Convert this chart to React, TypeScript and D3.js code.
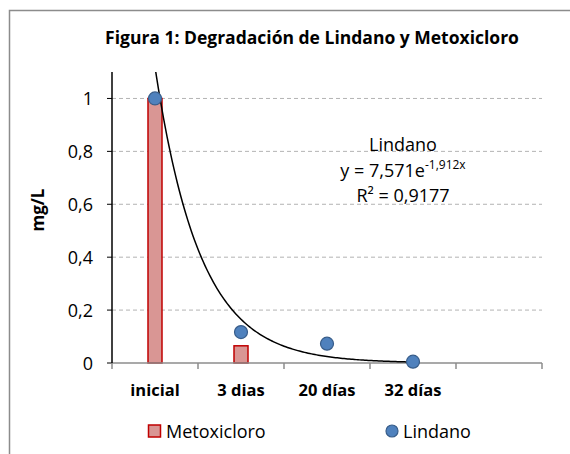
import React from "react";
import * as d3 from "d3";

const categories = ["inicial", "3 dias", "20 días", "32 días", ""];
const metoxicloro = [1, 0.065, null, null, null];
const lindano = [1, 0.117, 0.073, 0.005, null];
const yTicks = [0, 0.2, 0.4, 0.6, 0.8, 1];
const trendA = 7.571;
const trendB = -1.912;

const FONT = "'Open Sans', 'Noto Sans', sans-serif";

function App() {
  const left = 112;
  const right = 542;
  const top = 72;
  const bottom = 363;

  const x = d3.scaleBand().domain(categories.map((c, i) => String(i))).range([left, right]);
  const y = d3.scaleLinear().domain([0, 1.1]).range([bottom, top]);
  const bw = x.bandwidth();
  const cx = (i: number) => (x(String(i)) || 0) + bw / 2;
  // trend line uses Excel's category index (1-based)
  const xIdx = d3.scaleLinear().domain([1, 2]).range([cx(0), cx(1)]);
  const trendPts = d3.range(1, 4.001, 0.02).map((t) => [xIdx(t), y(trendA * Math.exp(trendB * t))] as [number, number]);
  const trendPath = d3.line()(trendPts) || "";
  const fmt = (v: number) => String(v).replace(".", ",");

  return (
    <svg width={570} height={454} style={{ display: "block", position: "absolute", left: 0, top: 0 }}>
      <rect x={0} y={0} width={570} height={454} fill="#fff" />
      <rect x={9.5} y={10.5} width={620} height={470} fill="#fff" stroke="#8c8c8c" strokeWidth={1.5} />
      <defs>
        <clipPath id="plot">
          <rect x={left} y={top} width={right - left} height={bottom - top + 2} />
        </clipPath>
      </defs>
      <text x={312} y={44} textAnchor="middle" fontFamily={FONT} fontWeight="bold" fontSize={17.5} fill="#000">
        Figura 1: Degradación de Lindano y Metoxicloro
      </text>
      {yTicks.filter((t) => t > 0).map((t) => (
        <line key={t} x1={left} x2={right} y1={y(t)} y2={y(t)} stroke="#b3b3b3" strokeDasharray="4,3" />
      ))}
      {yTicks.map((t) => (
        <g key={"yt" + t}>
          <line x1={left - 5} x2={left} y1={y(t)} y2={y(t)} stroke="#000" />
          <text x={left - 19} y={y(t) + 6.5} textAnchor="end" fontFamily={FONT} fontSize={18} fill="#000">
            {fmt(t)}
          </text>
        </g>
      ))}
      <text transform={`translate(44,210) rotate(-90)`} textAnchor="middle" fontFamily={FONT} fontWeight="bold" fontSize={17} fill="#000">
        mg/L
      </text>
      {metoxicloro.map((v, i) =>
        v == null ? null : (
          <rect key={"b" + i} x={cx(i) - 7} y={y(v)} width={14} height={bottom - y(v)} fill="#d99694" stroke="#c00000" strokeWidth={1.5} />
        )
      )}
      {/* x axis */}
      <line x1={left} x2={right} y1={bottom} y2={bottom} stroke="#8c8c8c" strokeWidth={1.5} />
      {d3.range(categories.length + 1).map((i) => {
        const px = i < categories.length ? x(String(i)) || 0 : right;
        return <line key={"xt" + i} x1={px} x2={px} y1={bottom} y2={bottom + 6} stroke="#8c8c8c" strokeWidth={1.5} />;
      })}
      <line x1={left} x2={left} y1={top} y2={bottom} stroke="#000" strokeWidth={1.5} />
      {categories.map((c, i) => (
        <text key={"xl" + i} x={cx(i)} y={396} textAnchor="middle" fontFamily={FONT} fontWeight="bold" fontSize={16.5} fill="#000">
          {c}
        </text>
      ))}
      <path d={trendPath} fill="none" stroke="#000" strokeWidth={1.5} clipPath="url(#plot)" />
      {lindano.map((v, i) =>
        v == null ? null : <circle key={"p" + i} cx={cx(i)} cy={y(v)} r={6.5} fill="#4f81bd" stroke="#385d8a" strokeWidth={1.2} />
      )}
      <g fontFamily={FONT} fontSize={18} fill="#000" textAnchor="middle">
        <text x={403} y={151}>Lindano</text>
        <text x={403} y={177}>
          y = 7,571e<tspan fontSize={12} dy={-8}>-1,912x</tspan>
        </text>
        <text x={403} y={202}>R² = 0,9177</text>
      </g>
      {/* legend */}
      <rect x={148.5} y={425} width={12} height={12} fill="#d99694" stroke="#c00000" strokeWidth={1.5} />
      <text x={166} y={438} fontFamily={FONT} fontSize={18} fill="#000">Metoxicloro</text>
      <circle cx={392} cy={431} r={6} fill="#4f81bd" stroke="#385d8a" strokeWidth={1.2} />
      <text x={403} y={438} fontFamily={FONT} fontSize={18} fill="#000">Lindano</text>
    </svg>
  );
}

export default App;
